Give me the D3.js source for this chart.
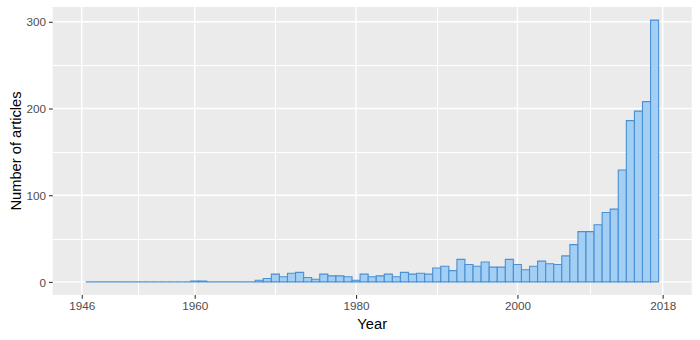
<!DOCTYPE html>
<html>
<head>
<meta charset="utf-8">
<script src="https://cdn.jsdelivr.net/npm/d3@7"></script>
<style>
    body { margin: 0; background: #fff; }
    .tick-label { font-family: "Liberation Sans", Arial, sans-serif; font-size: 11.7px; fill: #4d4d4d; }
    .axis-title { font-family: "Liberation Sans", Arial, sans-serif; font-size: 14.7px; fill: #000; }
</style>
</head>
<body>
<div class="chart-main"></div>
<script>

//////////
// DATA //
//////////

var years = [1947, 1948, 1949, 1950, 1951, 1952, 1953, 1954, 1955, 1956,
    1957, 1958, 1959, 1960, 1961, 1962, 1963, 1964, 1965, 1966,
    1967, 1968, 1969, 1970, 1971, 1972, 1973, 1974, 1975, 1976,
    1977, 1978, 1979, 1980, 1981, 1982, 1983, 1984, 1985, 1986,
    1987, 1988, 1989, 1990, 1991, 1992, 1993, 1994, 1995, 1996,
    1997, 1998, 1999, 2000, 2001, 2002, 2003, 2004, 2005, 2006,
    2007, 2008, 2009, 2010, 2011, 2012, 2013, 2014, 2015, 2016, 2017];

var counts = [0, 0, 0, 0, 0, 0, 0, 0, 0, 0,
    0, 0, 0, 1, 1, 0, 0, 0, 0, 0,
    0, 2, 4, 9, 6, 10, 11, 5, 3, 9,
    7, 7, 6, 2, 9, 6, 7, 9, 6, 11,
    9, 10, 9, 16, 18, 13, 26, 20, 18, 23,
    17, 17, 26, 20, 14, 18, 24, 21, 20, 30,
    43, 58, 58, 66, 80, 84, 129, 186, 197, 208, 302];

var xBreaks = [1946, 1960, 1980, 2000, 2018],
    xMinor = [1953, 1970, 1990, 2009],
    yBreaks = [0, 100, 200, 300],
    yMinor = [50, 150, 250];

//////////////////
// CREATING SVG //
//////////////////

var w = 700,
    h = 340;

var svg = d3.select('.chart-main')
    .append('svg')
    .attr('width', w)
    .attr('height', h);

var panel = { left: 52.7, right: 691.7, top: 7, bottom: 295 };

////////////
// SCALES //
////////////

// limits 1946-2018 with ggplot's 5% expansion
var xScale = d3.scaleLinear()
    .domain([1946 - 3.6, 2018 + 3.6])
    .range([panel.left, panel.right]);

var yMax = d3.max(counts);
var yScale = d3.scaleLinear()
    .domain([-yMax * 0.05, yMax * 1.05])
    .range([panel.bottom, panel.top]);

//////////////////////
// PANEL + GRIDLINES //
//////////////////////

svg.append('rect')
    .attr('x', panel.left)
    .attr('y', panel.top)
    .attr('width', panel.right - panel.left)
    .attr('height', panel.bottom - panel.top)
    .attr('fill', '#ebebeb');

var grid = svg.append('g');

grid.selectAll('.ygrid-minor')
    .data(yMinor).enter()
    .append('line')
    .attr('x1', panel.left).attr('x2', panel.right)
    .attr('y1', function(d) { return Math.round(yScale(d)) + 0.5; })
    .attr('y2', function(d) { return Math.round(yScale(d)) + 0.5; })
    .attr('stroke', '#fff').attr('stroke-width', 1);

grid.selectAll('.xgrid-minor')
    .data(xMinor).enter()
    .append('line')
    .attr('y1', panel.top).attr('y2', panel.bottom)
    .attr('x1', function(d) { return Math.round(xScale(d)) + 0.5; })
    .attr('x2', function(d) { return Math.round(xScale(d)) + 0.5; })
    .attr('stroke', '#fff').attr('stroke-width', 1);

grid.selectAll('.ygrid')
    .data(yBreaks).enter()
    .append('line')
    .attr('x1', panel.left).attr('x2', panel.right)
    .attr('y1', function(d) { return yScale(d); })
    .attr('y2', function(d) { return yScale(d); })
    .attr('stroke', '#fff').attr('stroke-width', 1.4);

grid.selectAll('.xgrid')
    .data(xBreaks).enter()
    .append('line')
    .attr('y1', panel.top).attr('y2', panel.bottom)
    .attr('x1', function(d) { return xScale(d); })
    .attr('x2', function(d) { return xScale(d); })
    .attr('stroke', '#fff').attr('stroke-width', 1.4);

//////////
// BARS //
//////////

// paths so that zero-height bins still show their outline
svg.append('g')
    .selectAll('path')
    .data(years)
    .enter()
    .append('path')
    .attr('d', function(d, i) {
        var x0 = xScale(d - 0.5),
            x1 = xScale(d + 0.5),
            y0 = yScale(0),
            y1 = yScale(counts[i]);
        return 'M' + x0 + ',' + y0 + 'L' + x1 + ',' + y0 + 'L' + x1 + ',' + y1 + 'L' + x0 + ',' + y1 + 'Z';
    })
    .attr('fill', '#a3cff4')
    .attr('stroke', '#4a90d2')
    .attr('stroke-width', 1.1);

//////////
// AXIS //
//////////

var xAxis = d3.axisBottom(xScale)
    .tickValues(xBreaks)
    .tickSize(3.7)
    .tickPadding(2.9)
    .tickFormat(d3.format(''));

var gx = svg.append('g')
    .attr('transform', 'translate(0,' + panel.bottom + ')')
    .call(xAxis);

var yAxis = d3.axisLeft(yScale)
    .tickValues(yBreaks)
    .tickSize(3.7)
    .tickPadding(2.9);

var gy = svg.append('g')
    .attr('transform', 'translate(' + panel.left + ',0)')
    .call(yAxis);

[gx, gy].forEach(function(g) {
    g.select('.domain').remove();
    g.selectAll('.tick line').attr('stroke', '#333333').attr('stroke-width', 1.1);
    g.selectAll('.tick text')
        .attr('class', 'tick-label')
        .attr('fill', null)
        .attr('font-size', null)
        .attr('font-family', null);
});

gy.selectAll('.tick text').attr('dy', '0.35em');

////////////
// TITLES //
////////////

svg.append('text')
    .attr('class', 'axis-title')
    .attr('x', (panel.left + panel.right) / 2)
    .attr('y', 329)
    .attr('text-anchor', 'middle')
    .text('Year');

svg.append('text')
    .attr('class', 'axis-title')
    .attr('transform', 'translate(20.5,' + (panel.top + panel.bottom) / 2 + ') rotate(-90)')
    .attr('text-anchor', 'middle')
    .text('Number of articles');

</script>
</body>
</html>
